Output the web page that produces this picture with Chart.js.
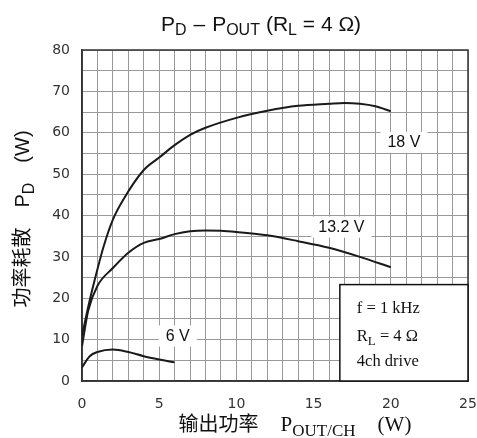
<!DOCTYPE html>
<html>
<head>
<meta charset="utf-8">
<script src="https://cdn.jsdelivr.net/npm/chart.js@4.4.1/dist/chart.umd.min.js"></script>
<style>
  html, body { margin: 0; padding: 0; background: #fff; }
  #wrap { width: 477px; height: 438px; }
</style>
</head>
<body>
<div id="wrap"><canvas id="pd-chart" width="477" height="438"></canvas></div>
<script>
// 数据
const pout18 = [0, 0.5, 1, 1.4, 2, 2.7, 4, 5, 6, 7, 8, 10, 12, 14, 16, 17, 18, 19, 20];
const pd18   = [11, 19.5, 27, 32.5, 39, 44, 51, 54, 57, 59.5, 61.2, 63.6, 65.3, 66.5, 67, 67.2, 67, 66.4, 65.2];

const pout132 = [0, 0.4, 1, 2, 3, 4, 5, 6, 7, 8, 9, 10, 12, 14, 16, 18, 20];
const pd132   = [8.4, 17, 23, 27.3, 31, 33.4, 34.3, 35.5, 36.2, 36.4, 36.3, 36, 35.2, 33.8, 32.2, 30, 27.5];

const pout6 = [0, 0.5, 1, 2, 3, 4, 5, 6];
const pd6   = [3.3, 6, 7, 7.6, 7, 6, 5.2, 4.5];

const seriesNames = ['18 V', '13.2 V', '6 V'];
const xTickLabels = [0, 5, 10, 15, 20, 25];
const yTickLabels = [0, 10, 20, 30, 40, 50, 60, 70, 80];

const toPoints = (xs, ys) => xs.map((x, i) => ({ x: x, y: ys[i] }));

const SANS = '"Liberation Sans", Arial, sans-serif';
const SERIF = '"Liberation Serif", "Times New Roman", serif';
const CJK = '"Noto Sans CJK SC", sans-serif';

// 画带下标的文字
function drawRich(ctx, parts, x, y, align) {
    let w = 0;
    parts.forEach(p => { ctx.font = p[1]; w += ctx.measureText(p[0]).width + (p[3] || 0); });
    let cx = align === 'center' ? x - w / 2 : x;
    parts.forEach(p => {
        ctx.font = p[1];
        cx += (p[3] || 0);
        ctx.fillText(p[0], cx, y + (p[2] || 0));
        cx += ctx.measureText(p[0]).width;
    });
}

// 外框
const framePlugin = {
    id: 'frame',
    beforeDatasetsDraw(chart) {
        const a = chart.chartArea, c = chart.ctx;
        c.save();
        c.strokeStyle = '#333';
        c.lineWidth = 1.5;
        c.strokeRect(a.left, a.top, a.right - a.left, a.bottom - a.top);
        c.restore();
    }
};

const textPlugin = {
    id: 'pdText',
    afterDatasetsDraw(chart) {
        const ctx = chart.ctx;
        const xs = chart.scales.x, ys = chart.scales.y;
        ctx.save();
        ctx.fillStyle = '#111';
        ctx.textBaseline = 'alphabetic';

        // 标题
        drawRich(ctx, [
            ['P', '21px ' + SANS], ['D', '16px ' + SANS, 4],
            ['\u2013', '21px ' + SANS, 0, 7], ['P', '21px ' + SANS, 0, 7], ['OUT', '16px ' + SANS, 4],
            ['(R', '21px ' + SANS, 0, 6], ['L', '16px ' + SANS, 4],
            [' = 4 \u03A9)', '21px ' + SANS]
        ], 261, 31, 'center');

        // Y 轴标题
        ctx.save();
        ctx.translate(29, 219);
        ctx.rotate(-Math.PI / 2);
        drawRich(ctx, [
            ['功率耗散', '20px ' + CJK], ['P', '20px ' + SANS, 0, 20], ['D', '16px ' + SANS, 5],
            ['(W)', '20px ' + SANS, 0, 20]
        ], 0, 0, 'center');
        ctx.restore();

        // X 轴标题
        drawRich(ctx, [
            ['输出功率', '20px ' + CJK], ['P', '21px ' + SERIF, 0, 22], ['OUT/CH', '17px ' + SERIF, 5],
            ['(W)', '21px ' + SERIF, 0, 22]
        ], 295, 431, 'center');

        // 曲线标签
        const labels = [
            [seriesNames[0], 20.85, 57.8],
            [seriesNames[1], 16.8, 37.3],
            [seriesNames[2], 6.2, 11]
        ];
        ctx.font = '16px ' + SANS;
        ctx.textAlign = 'center';
        ctx.textBaseline = 'middle';
        labels.forEach(l => {
            const px = xs.getPixelForValue(l[1]);
            const py = ys.getPixelForValue(l[2]);
            const w = ctx.measureText(l[0]).width + 14;
            ctx.fillStyle = '#fff';
            ctx.fillRect(px - w / 2, py - 10, w, 21);
            ctx.fillStyle = '#111';
            ctx.fillText(l[0], px, py + 1);
        });

        // 条件框
        const bx0 = xs.getPixelForValue(16.7), bx1 = xs.getPixelForValue(25);
        const by0 = ys.getPixelForValue(23.3), by1 = ys.getPixelForValue(0);
        ctx.fillStyle = '#fff';
        ctx.fillRect(bx0, by0, bx1 - bx0, by1 - by0);
        ctx.strokeStyle = '#111';
        ctx.lineWidth = 1.5;
        ctx.strokeRect(bx0, by0, bx1 - bx0, by1 - by0);

        ctx.fillStyle = '#111';
        ctx.textAlign = 'left';
        ctx.textBaseline = 'alphabetic';
        drawRich(ctx, [['f = 1 kHz', '16.5px ' + SERIF]], bx0 + 17, by0 + 28, 'left');
        drawRich(ctx, [['R', '16.5px ' + SERIF], ['L', '13px ' + SERIF, 4], [' = 4 \u03A9', '16.5px ' + SERIF]], bx0 + 17, by0 + 56, 'left');
        drawRich(ctx, [['4ch drive', '16.5px ' + SERIF]], bx0 + 17, by0 + 81, 'left');
        ctx.restore();
    }
};

const lineStyle = {
    borderColor: '#1a1a1a',
    borderWidth: 2,
    pointRadius: 0,
    fill: false,
    cubicInterpolationMode: 'monotone'
};

const ctx = document.getElementById('pd-chart').getContext('2d');
const pdChart = new Chart(ctx, {
    type: 'line',
    data: {
        datasets: [
            Object.assign({ label: seriesNames[0], data: toPoints(pout18, pd18) }, lineStyle),
            Object.assign({ label: seriesNames[1], data: toPoints(pout132, pd132) }, lineStyle),
            Object.assign({ label: seriesNames[2], data: toPoints(pout6, pd6) }, lineStyle)
        ]
    },
    options: {
        responsive: false,
        animation: false,
        layout: { padding: { top: 50, right: 9, left: 0, bottom: 0 } },
        plugins: {
            legend: { display: false },
            tooltip: { enabled: false }
        },
        scales: {
            x: {
                type: 'linear',
                min: 0,
                max: 25,
                afterFit(scale) {
                    scale.height = 57;
                    scale.paddingLeft = 0;
                    scale.paddingRight = 0;
                },
                grid: { color: '#999', lineWidth: 1, drawTicks: false },
                border: { color: '#333', width: 1.5 },
                ticks: {
                    stepSize: 1,
                    autoSkip: false,
                    maxRotation: 0,
                    padding: 15,
                    color: '#333',
                    font: { family: '"DejaVu Sans", Verdana, sans-serif', size: 14 },
                    callback: v => xTickLabels.includes(v) ? String(v) : ''
                }
            },
            y: {
                min: 0,
                max: 80,
                afterFit(scale) {
                    scale.width = 82;
                    scale.paddingTop = 0;
                    scale.paddingBottom = 0;
                },
                grid: { color: '#999', lineWidth: 1, drawTicks: false },
                border: { color: '#333', width: 1.5 },
                ticks: {
                    stepSize: 5,
                    autoSkip: false,
                    padding: 12,
                    color: '#333',
                    font: { family: '"DejaVu Sans", Verdana, sans-serif', size: 14 },
                    callback: v => yTickLabels.includes(v) ? String(v) : ''
                }
            }
        }
    },
    plugins: [framePlugin, textPlugin]
});
</script>
</body>
</html>
